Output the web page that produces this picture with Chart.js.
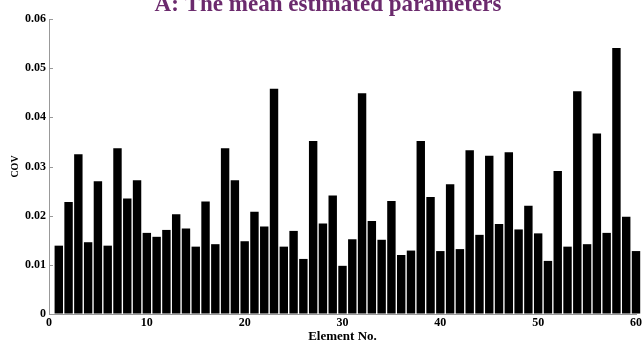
<!DOCTYPE html>
<html>
<head>
<meta charset="utf-8">
<script src="https://cdn.jsdelivr.net/npm/chart.js@4"></script>
<style>
  html, body { margin: 0; padding: 0; background: #ffffff; }
  #wrap { width: 644px; height: 340px; }
</style>
</head>
<body>
<div id="wrap"><canvas id="cov"></canvas></div>
<script>
/* --------------- Data --------------------- */
const elements = [];
for (let i = 1; i <= 60; i++) elements.push(i);
const covValues = [
  0.0139, 0.0228, 0.0325, 0.0146, 0.0270, 0.0139, 0.0337, 0.0235, 0.0272, 0.0165,
  0.0157, 0.0171, 0.0203, 0.0174, 0.0137, 0.0229, 0.0142, 0.0337, 0.0272, 0.0148,
  0.0208, 0.0178, 0.0458, 0.0137, 0.0169, 0.0112, 0.0352, 0.0184, 0.0241, 0.0098,
  0.0152, 0.0449, 0.0189, 0.0151, 0.0230, 0.0120, 0.0129, 0.0352, 0.0238, 0.0128,
  0.0264, 0.0132, 0.0333, 0.0161, 0.0322, 0.0183, 0.0329, 0.0172, 0.0220, 0.0164,
  0.0108, 0.0291, 0.0137, 0.0453, 0.0142, 0.0367, 0.0165, 0.0541, 0.0198, 0.0128,
];
const xTicks = [0, 10, 20, 30, 40, 50, 60];
const yTicks = [0, 0.01, 0.02, 0.03, 0.04, 0.05, 0.06];
const titleText = "A: The mean estimated parameters";

/* --------------- Title drawn at its own spot (partly off the top) --------------------- */
const topTitle = {
  id: "topTitle",
  afterDraw(chart) {
    const ctx = chart.ctx;
    ctx.save();
    ctx.fillStyle = "#6b2a6d";
    ctx.font = "bold 24px 'Liberation Serif', serif";
    ctx.textAlign = "center";
    ctx.textBaseline = "alphabetic";
    ctx.translate(328, 11);
    ctx.scale(0.96, 1);
    ctx.fillText(titleText, 0, 0);
    ctx.restore();
  },
};

/* --------------- Short ticks pointing into the plot on the y axis --------------------- */
const innerTicks = {
  id: "innerTicks",
  afterDraw(chart) {
    const ctx = chart.ctx;
    const y = chart.scales.y;
    ctx.save();
    ctx.strokeStyle = "#999";
    ctx.lineWidth = 1;
    ctx.beginPath();
    y.ticks.forEach((t) => {
      const py = Math.round(y.getPixelForValue(t.value)) + 0.5;
      ctx.moveTo(y.right, py);
      ctx.lineTo(y.right + 4, py);
    });
    ctx.stroke();
    ctx.restore();
  },
};

const tickFont = { family: "'Liberation Serif', serif", size: 12, weight: "bold" };

let covChart = new Chart(document.getElementById("cov"), {
  type: "bar",
  plugins: [topTitle, innerTicks],
  data: {
    datasets: [
      {
        data: elements.map((e, i) => ({ x: e, y: covValues[i] })),
        backgroundColor: "#000000",
        borderWidth: 0,
        barPercentage: 1,
        categoryPercentage: 0.86,
        clip: false,
      },
    ],
  },
  options: {
    responsive: true,
    maintainAspectRatio: false,
    animation: false,
    layout: { padding: { top: 19, right: 5, left: 0, bottom: 0 } },
    plugins: {
      legend: { display: false },
      tooltip: { enabled: false },
      title: { display: false },
    },
    scales: {
      x: {
        type: "linear",
        offset: false,
        min: 0,
        max: 60,
        afterBuildTicks: (axis) => { axis.ticks = xTicks.map(v => ({ value: v })); },
        ticks: { color: "#000", font: tickFont, padding: 2, maxRotation: 0 },
        grid: { display: true, drawOnChartArea: false, drawTicks: false, color: "#999" },
        border: { display: true, color: "#999" },
        title: {
          display: true, text: "Element No.", color: "#000",
          font: { family: "'Liberation Serif', serif", size: 13, weight: "bold" },
          padding: { top: 0, bottom: -4 },
        },
        afterFit: (axis) => { axis.height = 26; },
      },
      y: {
        min: 0,
        max: 0.06,
        afterBuildTicks: (axis) => { axis.ticks = yTicks.map(v => ({ value: v })); },
        ticks: {
          color: "#000",
          font: tickFont,
          padding: 3,
          callback: (v) => (v === 0 ? "0" : v.toFixed(2)),
        },
        grid: { display: true, drawOnChartArea: false, drawTicks: false, color: "#999" },
        border: { display: true, color: "#999" },
        title: {
          display: true, text: "COV", color: "#000",
          font: { family: "'Liberation Serif', serif", size: 10, weight: "bold" },
          padding: { top: 9, bottom: 0 },
        },
        afterFit: (axis) => { axis.width = 49; },
      },
    },
  },
});
</script>
</body>
</html>
